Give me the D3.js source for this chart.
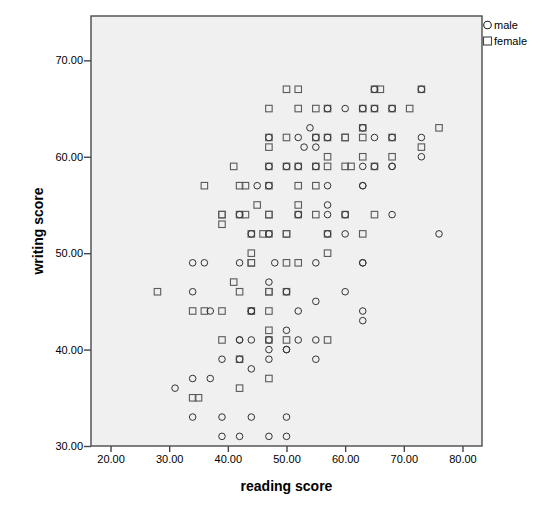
<!DOCTYPE html>
<html lang="en">
<head>
  <meta charset="UTF-8">
  <title>Writing vs Reading Score</title>
  <script src="https://d3js.org/d3.v7.min.js"></script>
  <style>
    body {
      margin: 0;
      padding: 0;
      background: #ffffff;
      font-family: "Liberation Sans", Arial, sans-serif;
    }
    .tick text {
      font-size: 11px;
      fill: #000;
    }
    .tick line {
      stroke: #444;
    }
  </style>
</head>
<body>
  <svg id="chart"></svg>

  <script>
    // Points, one line per writing score row
    const maleReading = [
      65, 73,
      57, 60, 63, 65, 68,
      54, 63,
      47, 52, 55, 57, 65, 68, 73,
      53, 55,
      73,
      47, 50, 52, 55, 63, 65, 68, 68,
      45, 47, 57, 63, 63,
      57,
      42, 52, 57, 60, 68,
      44, 47, 57, 60, 76,
      34, 36, 42, 48, 55, 63, 63,
      47,
      34, 50, 60,
      55,
      37, 44, 44, 52, 63,
      63,
      50,
      42, 42, 44, 47, 52, 55,
      47, 50, 50,
      39, 42, 47, 55,
      44,
      34, 37,
      31,
      34, 39, 44, 50,
      39, 42, 47, 50
    ];
    const maleWriting = [
      67, 67,
      65, 65, 65, 65, 65,
      63, 63,
      62, 62, 62, 62, 62, 62, 62,
      61, 61,
      60,
      59, 59, 59, 59, 59, 59, 59, 59,
      57, 57, 57, 57, 57,
      55,
      54, 54, 54, 54, 54,
      52, 52, 52, 52, 52,
      49, 49, 49, 49, 49, 49, 49,
      47,
      46, 46, 46,
      45,
      44, 44, 44, 44, 44,
      43,
      42,
      41, 41, 41, 41, 41, 41,
      40, 40, 40,
      39, 39, 39, 39,
      38,
      37, 37,
      36,
      33, 33, 33, 33,
      31, 31, 31, 31
    ];

    const femaleReading = [
      50, 52, 65, 66, 73,
      47, 52, 55, 57, 63, 65, 68, 71,
      63, 76,
      47, 50, 55, 57, 60, 60, 63, 68,
      47, 73,
      57, 63, 68,
      41, 47, 50, 52, 55, 57, 60, 61, 65,
      36, 42, 43, 47, 52, 55,
      45, 52,
      39, 39, 42, 43, 47, 47, 52, 55, 60, 65,
      39,
      44, 46, 47, 50, 50, 57, 63,
      44, 57,
      44, 44, 50, 52,
      41,
      28, 42, 47, 47, 50,
      34, 36, 39, 44, 47,
      47,
      39, 47, 50, 57,
      42,
      47,
      42,
      34, 35
    ];
    const femaleWriting = [
      67, 67, 67, 67, 67,
      65, 65, 65, 65, 65, 65, 65, 65,
      63, 63,
      62, 62, 62, 62, 62, 62, 62, 62,
      61, 61,
      60, 60, 60,
      59, 59, 59, 59, 59, 59, 59, 59, 59,
      57, 57, 57, 57, 57, 57,
      55, 55,
      54, 54, 54, 54, 54, 54, 54, 54, 54, 54,
      53,
      52, 52, 52, 52, 52, 52, 52,
      50, 50,
      49, 49, 49, 49,
      47,
      46, 46, 46, 46, 46,
      44, 44, 44, 44, 44,
      42,
      41, 41, 41, 41,
      39,
      37,
      36,
      35, 35
    ];

    const xTicks = [20, 30, 40, 50, 60, 70, 80];
    const yTicks = [30, 40, 50, 60, 70];
    const legendLabels = ["male", "female"];

    const width = 549;
    const height = 505;
    const plot = { left: 91, right: 482, top: 16, bottom: 446 };

    const svg = d3.select("#chart")
      .attr("width", width)
      .attr("height", height);

    const x = d3.scaleLinear()
      .domain([16.67, 83.33])
      .range([plot.left, plot.right]);

    const y = d3.scaleLinear()
      .domain([30, 74.6])
      .range([plot.bottom, plot.top]);

    // plot background
    svg.append("rect")
      .attr("x", plot.left)
      .attr("y", plot.top)
      .attr("width", plot.right - plot.left)
      .attr("height", plot.bottom - plot.top)
      .attr("fill", "#f0f0f0");

    const fmt = d3.format(".2f");

    const xAxis = svg.append("g")
      .attr("transform", `translate(0,${plot.bottom})`)
      .call(d3.axisBottom(x).tickValues(xTicks).tickFormat(fmt).tickSize(6).tickPadding(3));
    xAxis.select(".domain").remove();
    xAxis.selectAll(".tick text").attr("dy", "0.75em");

    const yAxis = svg.append("g")
      .attr("transform", `translate(${plot.left},0)`)
      .call(d3.axisLeft(y).tickValues(yTicks).tickFormat(fmt).tickSize(7).tickPadding(1));
    yAxis.select(".domain").remove();

    svg.selectAll(".tick line").attr("stroke-width", 1.4);

    // females (squares)
    const sq = 6.5;
    svg.append("g")
      .selectAll("rect")
      .data(d3.range(femaleReading.length))
      .enter()
      .append("rect")
      .attr("x", i => x(femaleReading[i]) - sq / 2)
      .attr("y", i => y(femaleWriting[i]) - sq / 2)
      .attr("width", sq)
      .attr("height", sq)
      .attr("fill", "none")
      .attr("stroke", "#5a5a5a")
      .attr("stroke-width", 1.1);

    // males (circles)
    svg.append("g")
      .selectAll("circle")
      .data(d3.range(maleReading.length))
      .enter()
      .append("circle")
      .attr("cx", i => x(maleReading[i]))
      .attr("cy", i => y(maleWriting[i]))
      .attr("r", 3.3)
      .attr("fill", "none")
      .attr("stroke", "#333")
      .attr("stroke-width", 1);

    // frame
    svg.append("rect")
      .attr("x", plot.left)
      .attr("y", plot.top)
      .attr("width", plot.right - plot.left)
      .attr("height", plot.bottom - plot.top)
      .attr("fill", "none")
      .attr("stroke", "#4a4a4a")
      .attr("stroke-width", 1.4);

    // axis titles
    svg.append("text")
      .attr("x", (plot.left + plot.right) / 2)
      .attr("y", 491)
      .attr("text-anchor", "middle")
      .attr("font-size", "14px")
      .attr("font-weight", "bold")
      .text("reading score");

    svg.append("text")
      .attr("transform", `translate(43,${(plot.top + plot.bottom) / 2}) rotate(-90)`)
      .attr("text-anchor", "middle")
      .attr("font-size", "14px")
      .attr("font-weight", "bold")
      .text("writing score");

    // legend
    const legend = svg.append("g").attr("font-size", "11px");
    legend.append("circle")
      .attr("cx", 487.5).attr("cy", 25).attr("r", 3.8)
      .attr("fill", "none").attr("stroke", "#222").attr("stroke-width", 1.1);
    legend.append("rect")
      .attr("x", 483.5).attr("y", 37).attr("width", 8).attr("height", 8)
      .attr("fill", "none").attr("stroke", "#444").attr("stroke-width", 1.1);
    legend.selectAll("text")
      .data(legendLabels)
      .enter()
      .append("text")
      .attr("x", 494)
      .attr("y", (d, i) => 29 + i * 16)
      .text(d => d);
  </script>
</body>
</html>
